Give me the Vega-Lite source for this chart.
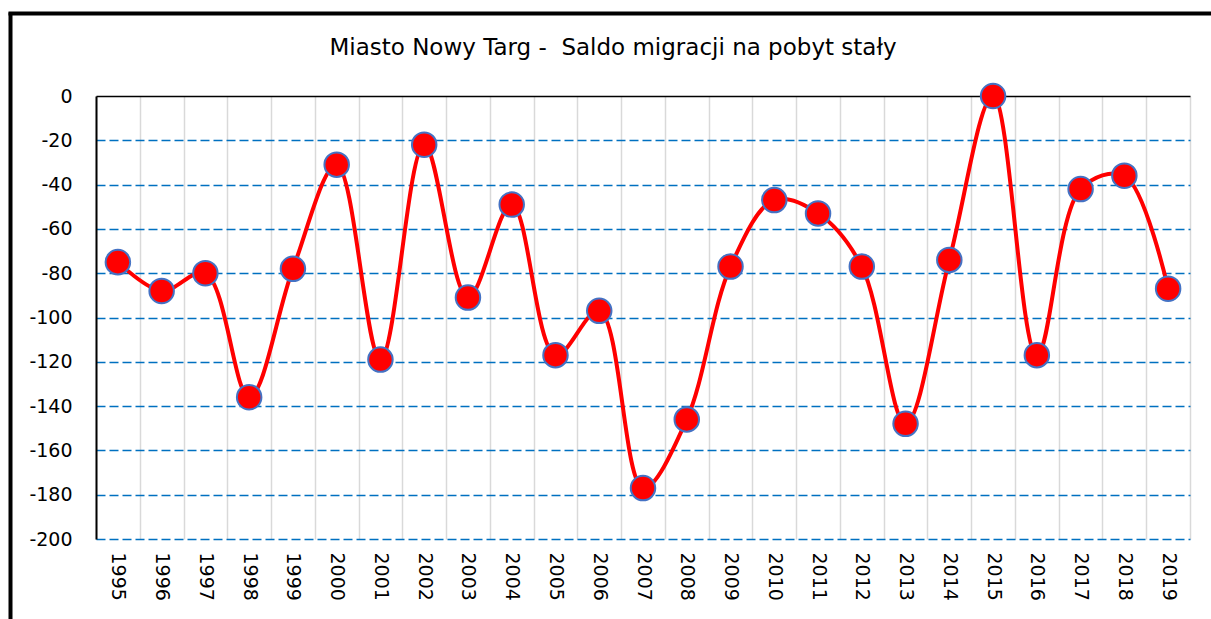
{
  "$schema": "https://vega.github.io/schema/vega-lite/v6.json",
  "autosize": {"type": "none"},
  "padding": {"left": 96, "top": 96, "right": 21, "bottom": 80},
  "width": 1094,
  "height": 443,
  "background": "white",
  "title": {
    "text": "Miasto Nowy Targ -\u00a0 Saldo migracji na pobyt stały",
    "font": "DejaVu Sans",
    "fontSize": 23,
    "fontWeight": "normal",
    "color": "black",
    "frame": "group",
    "anchor": "middle",
    "baseline": "alphabetic",
    "offset": -69,
    "dx": -30
  },
  "data": {
    "values": [
      {"year": "1995", "saldo": -75},
      {"year": "1996", "saldo": -88},
      {"year": "1997", "saldo": -80},
      {"year": "1998", "saldo": -136},
      {"year": "1999", "saldo": -78},
      {"year": "2000", "saldo": -31},
      {"year": "2001", "saldo": -119},
      {"year": "2002", "saldo": -22},
      {"year": "2003", "saldo": -91},
      {"year": "2004", "saldo": -49},
      {"year": "2005", "saldo": -117},
      {"year": "2006", "saldo": -97},
      {"year": "2007", "saldo": -177},
      {"year": "2008", "saldo": -146},
      {"year": "2009", "saldo": -77},
      {"year": "2010", "saldo": -47},
      {"year": "2011", "saldo": -53},
      {"year": "2012", "saldo": -77},
      {"year": "2013", "saldo": -148},
      {"year": "2014", "saldo": -74},
      {"year": "2015", "saldo": 0},
      {"year": "2016", "saldo": -117},
      {"year": "2017", "saldo": -42},
      {"year": "2018", "saldo": -36},
      {"year": "2019", "saldo": -87}
    ]
  },
  "layer": [
    {
      "encoding": {
        "x": {
          "field": "year",
          "type": "ordinal",
          "title": null,
          "scale": {"paddingInner": 0, "paddingOuter": 0},
          "axis": {
            "domain": false,
            "ticks": false,
            "tickBand": "extent",
            "grid": true,
            "gridColor": "#d9d9d9",
            "gridWidth": 1.5,
            "labelAngle": 90,
            "labelAlign": "left",
            "labelBaseline": "middle",
            "labelPadding": 13,
            "labelFont": "DejaVu Sans",
            "labelFontSize": 19,
            "labelColor": "black"
          }
        },
        "y": {
          "field": "saldo",
          "type": "quantitative",
          "title": null,
          "scale": {"domain": [-200, 0], "nice": false, "zero": false},
          "axis": {
            "values": [0, -20, -40, -60, -80, -100, -120, -140, -160, -180, -200],
            "labelExpr": "datum.value < 0 ? '-' + abs(datum.value) : '' + datum.value",
            "domain": true,
            "domainColor": "black",
            "domainWidth": 2,
            "ticks": false,
            "grid": true,
            "gridColor": {"condition": {"test": "datum.value == 0", "value": "black"}, "value": "#0070C0"},
            "gridDash": {"condition": {"test": "datum.value == 0", "value": []}, "value": [9, 4]},
            "gridWidth": 1.5,
            "labelPadding": 24,
            "labelFont": "DejaVu Sans",
            "labelFontSize": 19,
            "labelColor": "black"
          }
        }
      },
      "layer": [
        {
          "mark": {"type": "line", "color": "#FF0000", "strokeWidth": 4, "interpolate": "catmull-rom"}
        },
        {
          "mark": {"type": "point", "shape": "circle", "filled": true, "size": 600, "fill": "#FF0000", "stroke": "#4472C4", "strokeWidth": 2, "opacity": 1}
        }
      ]
    },
    {
      "mark": {"type": "point", "opacity": 0},
      "encoding": {
        "x": {
          "field": "saldo",
          "type": "quantitative",
          "title": null,
          "scale": {"domain": [-200, 0], "range": [-88, 1200], "nice": false, "zero": false},
          "axis": {"orient": "top", "offset": 83, "domain": true, "domainColor": "black", "domainWidth": 4, "ticks": false, "labels": false, "grid": false}
        },
        "y": {
          "field": "saldo",
          "type": "quantitative",
          "title": null,
          "scale": {"domain": [-200, 0], "range": [560, -84], "nice": false, "zero": false},
          "axis": {"orient": "left", "offset": 86, "domain": true, "domainColor": "black", "domainWidth": 4, "ticks": false, "labels": false, "grid": false}
        }
      }
    }
  ],
  "resolve": {"scale": {"x": "independent", "y": "independent"}, "axis": {"x": "independent", "y": "independent"}},
  "config": {
    "view": {"stroke": null}
  }
}
